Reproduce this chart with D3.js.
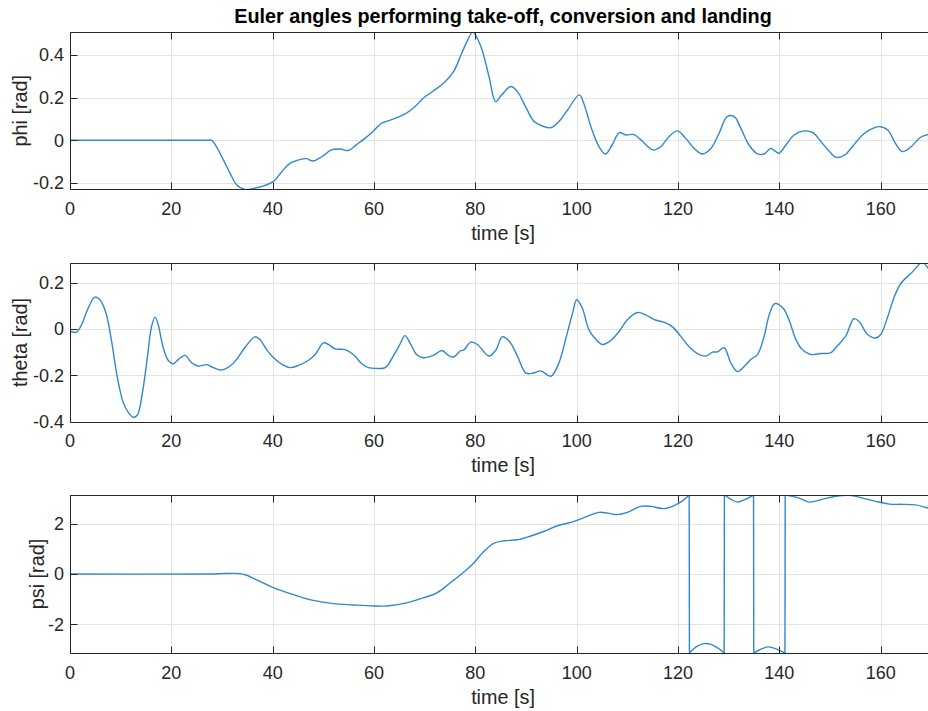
<!DOCTYPE html>
<html><head><meta charset="utf-8">
<script src="https://cdn.jsdelivr.net/npm/d3@7"></script>
<style>
body{margin:0;background:#fff;}
svg{display:block;font-family:"Liberation Sans",Arial,Helvetica,sans-serif;}
</style>
</head><body>
<svg id="chart" width="928" height="711"></svg>
<script>
// ---------------- data ----------------
const titleText = "Euler angles performing take-off, conversion and landing";
const xLabelText = "time [s]";
const timeTicks = [0, 20, 40, 60, 80, 100, 120, 140, 160];

const phiTicks = [-0.2, 0, 0.2, 0.4];
const thetaTicks = [-0.4, -0.2, 0, 0.2];
const psiTicks = [-2, 0, 2];

const phiTime = [0, 27, 28, 29.6, 31.6, 32.9, 34.5, 36.2, 38.2, 40.1, 41.8, 43.4, 45.7, 46.7, 48.0, 49.7, 51.6, 53.3, 54.9, 56.6, 58.2, 59.9, 61.5, 62.8, 64.5, 66.4, 68.1, 69.7, 71.7, 73.7, 75.7, 77.3, 78.4, 79.5, 81.1, 82.7, 84.0, 85.2, 87.0, 88.3, 89.9, 91.6, 93.2, 94.9, 96.5, 98.2, 100.5, 101.4, 102.8, 104.4, 105.7, 107.0, 108.4, 109.7, 111.3, 113.0, 115.0, 116.6, 118.2, 119.9, 121.5, 123.2, 124.8, 126.4, 128.1, 129.7, 131.1, 132.4, 134.0, 135.7, 137.0, 138.3, 139.3, 139.9, 141.3, 142.9, 144.9, 146.6, 148.2, 149.9, 151.2, 152.9, 154.4, 156.4, 158.1, 159.7, 161.4, 162.7, 164.3, 166.0, 167.8, 169.5, 171];
const phiValues = [0, 0, 0, -0.061, -0.155, -0.209, -0.230, -0.226, -0.214, -0.194, -0.147, -0.108, -0.088, -0.086, -0.097, -0.077, -0.045, -0.041, -0.048, -0.019, 0.009, 0.044, 0.080, 0.091, 0.106, 0.127, 0.158, 0.197, 0.231, 0.267, 0.322, 0.408, 0.465, 0.507, 0.439, 0.298, 0.181, 0.213, 0.252, 0.228, 0.158, 0.088, 0.067, 0.059, 0.088, 0.142, 0.213, 0.173, 0.064, -0.030, -0.064, -0.022, 0.036, 0.025, 0.027, -0.006, -0.045, -0.030, 0.017, 0.044, 0.009, -0.038, -0.064, -0.041, 0.033, 0.111, 0.111, 0.056, -0.022, -0.064, -0.064, -0.038, -0.053, -0.061, -0.022, 0.025, 0.044, 0.036, -0.006, -0.053, -0.080, -0.069, -0.030, 0.025, 0.052, 0.064, 0.048, -0.006, -0.053, -0.030, 0.013, 0.028, 0.032];

const thetaTime = [0, 1.3, 2.3, 3.6, 4.9, 5.9, 7.1, 8.2, 9.3, 10.5, 11.5, 12.5, 13.3, 14.3, 15.3, 16.1, 16.8, 17.4, 18.4, 19.4, 20.4, 21.4, 22.7, 24.0, 25.3, 27.0, 28.3, 29.9, 31.6, 32.9, 34.5, 36.5, 37.5, 38.8, 40.5, 42.1, 43.4, 45.1, 47.0, 48.4, 50.0, 51.0, 52.3, 54.3, 55.9, 57.6, 58.9, 60.5, 62.2, 63.8, 65.1, 66.1, 67.1, 68.4, 69.7, 71.7, 73.4, 74.7, 75.7, 77.0, 77.8, 79.1, 80.4, 82.7, 84.1, 85.3, 86.7, 88.3, 90.0, 91.6, 92.9, 94.9, 96.5, 97.8, 99.2, 100.0, 101.1, 102.4, 103.8, 105.1, 106.7, 108.4, 110.0, 112.0, 113.6, 115.3, 117.2, 118.9, 120.5, 122.2, 123.8, 125.5, 126.8, 127.8, 129.1, 130.4, 131.7, 133.0, 134.4, 135.7, 137.0, 138.0, 139.1, 140.7, 142.0, 143.2, 144.5, 146.2, 148.2, 150.1, 151.4, 153.1, 154.7, 155.7, 157.4, 159.0, 160.0, 161.4, 162.7, 164.0, 166.0, 168.2, 169.4, 171];
const thetaValues = [-0.01, -0.014, 0.019, 0.09, 0.137, 0.126, 0.069, -0.053, -0.203, -0.317, -0.36, -0.381, -0.371, -0.274, -0.117, 0.011, 0.051, 0.019, -0.081, -0.136, -0.15, -0.131, -0.114, -0.146, -0.16, -0.154, -0.167, -0.177, -0.16, -0.131, -0.081, -0.034, -0.046, -0.089, -0.131, -0.156, -0.167, -0.157, -0.136, -0.11, -0.06, -0.067, -0.086, -0.089, -0.11, -0.15, -0.167, -0.17, -0.167, -0.117, -0.067, -0.029, -0.06, -0.11, -0.124, -0.114, -0.093, -0.114, -0.121, -0.096, -0.089, -0.057, -0.067, -0.117, -0.089, -0.034, -0.053, -0.117, -0.191, -0.189, -0.181, -0.204, -0.146, -0.046, 0.069, 0.126, 0.09, -0.003, -0.046, -0.067, -0.05, -0.01, 0.04, 0.071, 0.061, 0.04, 0.029, 0.009, -0.031, -0.077, -0.106, -0.117, -0.1, -0.099, -0.081, -0.146, -0.184, -0.163, -0.131, -0.11, -0.031, 0.061, 0.109, 0.09, 0.033, -0.043, -0.089, -0.11, -0.106, -0.103, -0.074, -0.031, 0.044, 0.033, -0.024, -0.039, -0.024, 0.054, 0.14, 0.197, 0.24, 0.286, 0.261, 0.22];

const psiTime = [0, 28, 30, 32, 33.5, 35, 36.5, 38.3, 40.1, 44.1, 48.0, 52.0, 55.9, 59.9, 62.5, 66.4, 69.7, 72.4, 75.0, 77.8, 79.7, 81.7, 83.7, 85.7, 88.3, 90.8, 93.6, 96.2, 99.5, 102.1, 104.4, 106.1, 108.0, 110.0, 112.6, 114.6, 117.2, 119.2, 120.9, 122.2, 122.25, 123.8, 125.1, 126.4, 127.8, 129.1, 129.15, 130.4, 131.7, 133.4, 134.9, 134.95, 136.6, 137.9, 139.6, 141.1, 141.15, 143.9, 145.9, 148.6, 151.1, 153.8, 156.4, 159.0, 161.7, 164.3, 166.9, 169.4, 171];
const psiValues = [0, 0, 0.015, 0.025, 0.015, -0.06, -0.2, -0.37, -0.54, -0.82, -1.05, -1.18, -1.23, -1.27, -1.27, -1.15, -0.95, -0.75, -0.36, 0.09, 0.44, 0.9, 1.23, 1.32, 1.36, 1.5, 1.7, 1.92, 2.09, 2.29, 2.45, 2.42, 2.36, 2.45, 2.69, 2.69, 2.6, 2.72, 2.91, 3.14, -3.14, -2.87, -2.77, -2.79, -2.94, -3.14, 3.14, 2.98, 2.86, 2.98, 3.14, -3.14, -2.97, -2.9, -3.0, -3.14, 3.14, 3.02, 2.86, 2.98, 3.09, 3.13, 3.02, 2.89, 2.78, 2.77, 2.75, 2.62, 2.58];

// ---------------- layout ----------------
const svg = d3.select("#chart");
const W = 928, H = 711;
const left = 70, pxPerSec = 5.067;
const xDomainMax = 170;
const right = left + xDomainMax * pxPerSec;

const panels = [
  {label: "phi [rad]", time: phiTime, values: phiValues, ticks: phiTicks, domain: [-0.2297, 0.5077], top: 32, bottom: 189.3, ylabX: 20},
  {label: "theta [rad]", time: thetaTime, values: thetaValues, ticks: thetaTicks, domain: [-0.4, 0.283], top: 263.3, bottom: 421.7, ylabX: 19.5},
  {label: "psi [rad]", time: psiTime, values: psiValues, ticks: psiTicks, domain: [-Math.PI, Math.PI], top: 495, bottom: 653, ylabX: 36.5}
];

const axisColor = "#262626";
const gridColor = "#e3e3e3";
const lineColor = "#3088cd";
const tickLen = 7;

const x = d3.scaleLinear().domain([0, xDomainMax]).range([left, right]);

svg.append("text")
  .attr("x", 503).attr("y", 23)
  .attr("text-anchor", "middle")
  .attr("font-size", "19.8px").attr("font-weight", "bold").attr("fill", "#000")
  .text(titleText);

panels.forEach((p, i) => {
  const y = d3.scaleLinear().domain(p.domain).range([p.bottom, p.top]);
  const g = svg.append("g");
  const clipId = "clip" + i;
  svg.append("clipPath").attr("id", clipId).append("rect")
    .attr("x", left).attr("y", p.top).attr("width", right - left).attr("height", p.bottom - p.top);

  // grid
  g.append("g").selectAll("line").data(timeTicks).join("line")
    .attr("x1", d => Math.round(x(d)) + 0.5).attr("x2", d => Math.round(x(d)) + 0.5)
    .attr("y1", p.top).attr("y2", p.bottom)
    .attr("stroke", gridColor).attr("stroke-width", 1);
  g.append("g").selectAll("line").data(p.ticks).join("line")
    .attr("y1", d => Math.round(y(d)) + 0.5).attr("y2", d => Math.round(y(d)) + 0.5)
    .attr("x1", left).attr("x2", right)
    .attr("stroke", gridColor).attr("stroke-width", 1);

  // data line: split into continuous runs, connect runs with straight wrap segments
  const pts = p.time.map((t, k) => [t, p.values[k]]);
  const runs = [];
  let cur = [pts[0]];
  for (let k = 1; k < pts.length; k++) {
    if (Math.abs(pts[k][1] - pts[k - 1][1]) > 3) { runs.push(cur); cur = [pts[k]]; }
    else cur.push(pts[k]);
  }
  runs.push(cur);
  const line = d3.line().x(d => x(d[0])).y(d => y(d[1])).curve(d3.curveCatmullRom.alpha(0.5));
  const straight = d3.line().x(d => x(d[0])).y(d => y(d[1]));
  const dg = g.append("g").attr("clip-path", `url(#${clipId})`);
  runs.forEach((r, k) => {
    dg.append("path").attr("d", line(r)).attr("fill", "none")
      .attr("stroke", lineColor).attr("stroke-width", 1.4).attr("stroke-linejoin", "round");
    if (k < runs.length - 1) {
      dg.append("path").attr("d", straight([r[r.length - 1], runs[k + 1][0]])).attr("fill", "none")
        .attr("stroke", lineColor).attr("stroke-width", 1.4);
    }
  });

  // box
  const t0 = Math.round(p.top) + 0.5, b0 = Math.round(p.bottom) + 0.5;
  g.append("path")
    .attr("d", `M${right},${t0}H${left + 0.5}V${b0}H${right}`)
    .attr("fill", "none").attr("stroke", axisColor).attr("stroke-width", 1);

  // x ticks top & bottom
  g.append("g").selectAll("line").data(timeTicks).join("line")
    .attr("x1", d => Math.round(x(d)) + 0.5).attr("x2", d => Math.round(x(d)) + 0.5)
    .attr("y1", b0).attr("y2", b0 - tickLen).attr("stroke", axisColor);
  g.append("g").selectAll("line").data(timeTicks).join("line")
    .attr("x1", d => Math.round(x(d)) + 0.5).attr("x2", d => Math.round(x(d)) + 0.5)
    .attr("y1", t0).attr("y2", t0 + tickLen).attr("stroke", axisColor);
  // y ticks
  g.append("g").selectAll("line").data(p.ticks).join("line")
    .attr("y1", d => Math.round(y(d)) + 0.5).attr("y2", d => Math.round(y(d)) + 0.5)
    .attr("x1", left + 0.5).attr("x2", left + 0.5 + tickLen).attr("stroke", axisColor);

  // tick labels
  g.append("g").selectAll("text").data(timeTicks).join("text")
    .attr("x", d => x(d)).attr("y", p.bottom + 25.7)
    .attr("text-anchor", "middle").attr("font-size", "18px").attr("fill", axisColor)
    .text(d => d);
  g.append("g").selectAll("text").data(p.ticks).join("text")
    .attr("x", 64).attr("y", d => y(d) + 6.4)
    .attr("text-anchor", "end").attr("font-size", "18px").attr("fill", axisColor)
    .text(d => String(d));

  // axis labels
  g.append("text")
    .attr("x", 503).attr("y", p.bottom + 50.6)
    .attr("text-anchor", "middle").attr("font-size", "19.8px").attr("fill", axisColor)
    .text(xLabelText);
  g.append("text")
    .attr("transform", `translate(${p.ylabX},${(p.top + p.bottom) / 2}) rotate(-90)`)
    .attr("text-anchor", "middle").attr("dominant-baseline", "central")
    .attr("font-size", "19.8px").attr("fill", axisColor)
    .text(p.label);
});
</script>
</body></html>
